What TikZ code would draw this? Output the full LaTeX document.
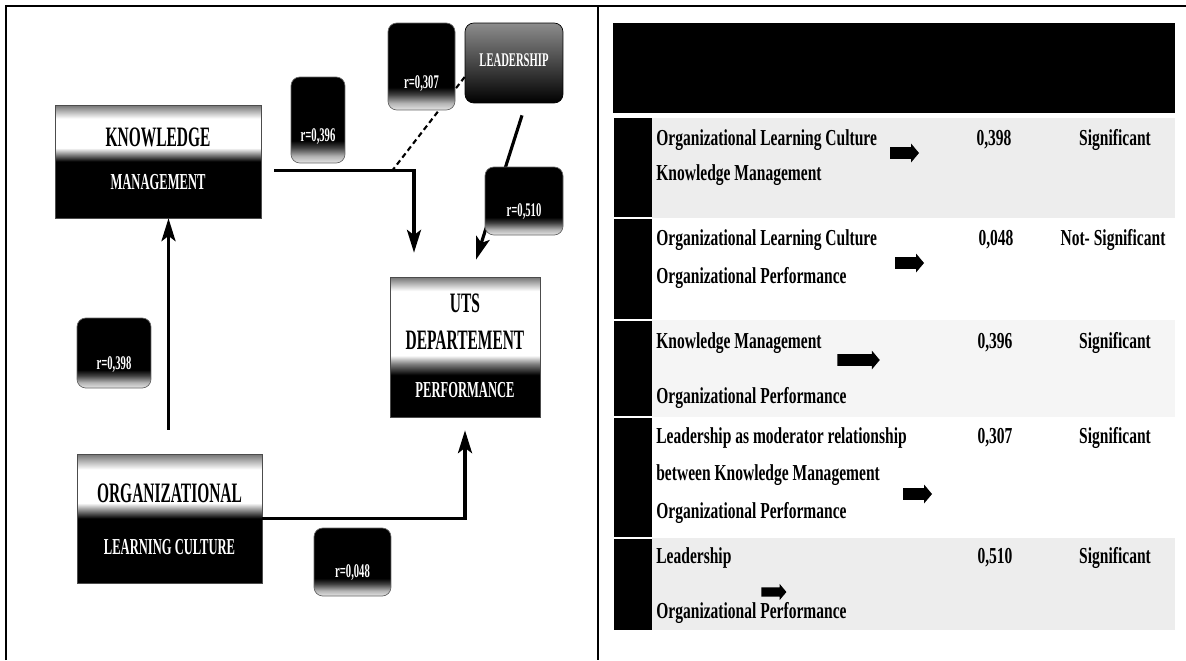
\documentclass[tikz,border=0pt]{standalone}
\usepackage{fontspec}
\setmainfont{Liberation Serif}
\newfontfamily\boxfont[FakeStretch=0.55]{Liberation Serif}
\newfontfamily\tablefont[FakeStretch=0.68]{Liberation Serif}
\usetikzlibrary{calc, positioning, arrows.meta, shapes.arrows}
% scanned look of the boxes: dark top edge, white band, black bottom
\pgfdeclareverticalshading{scanbox}{100bp}{color(0bp)=(black); color(50bp)=(black); color(53bp)=(black!50); color(56bp)=(white); color(69bp)=(white); color(75bp)=(black!55); color(100bp)=(black!55)}
\pgfdeclareverticalshading{scanboxtall}{100bp}{color(0bp)=(black); color(40bp)=(black); color(44bp)=(black!50); color(47bp)=(white); color(70bp)=(white); color(75bp)=(black!55); color(100bp)=(black!55)}
\pgfdeclareverticalshading{scanlabel}{100bp}{color(0bp)=(black!10); color(25bp)=(black!10); color(29bp)=(black!30); color(34bp)=(black!75); color(38bp)=(black); color(100bp)=(black)}

\begin{document}
\begin{tikzpicture}[x=0.02cm, y=-0.02cm,
  flow/.style={line width=1.8pt, -{Stealth[length=13pt, width=8pt, inset=3pt]}},
  modline/.style={line width=1.2pt, dash pattern=on 3pt off 2pt},
  mainbox/.style={draw=black!70, line width=0.4pt, shading=scanbox},
  tallbox/.style={mainbox, shading=scanboxtall},
  leadbox/.style={rounded corners=5pt, draw=black, top color=black!45, bottom color=black},
  labelbox/.style={rounded corners=5pt, draw=black!60, shading=scanlabel},
  titletxt/.style={font=\boxfont\bfseries\fontsize{16}{18}\selectfont, text=black, inner sep=1pt},
  subtxt/.style={font=\boxfont\bfseries\fontsize{13}{15}\selectfont, text=white, inner sep=1pt},
  labeltxt/.style={font=\boxfont\bfseries\fontsize{11}{13}\selectfont, text=white, inner sep=1pt},
  rowtxt/.style={font=\tablefont\bfseries\fontsize{13}{15}\selectfont, anchor=west, inner sep=0pt},
  valtxt/.style={font=\tablefont\bfseries\fontsize{13}{15}\selectfont, inner sep=0pt},
  blockarrow/.style={single arrow, fill=black, inner xsep=0pt, inner ysep=3.2pt,
    single arrow head extend=2pt, single arrow tip angle=100, minimum height=0.58cm}]
  \useasboundingbox (0,0) rectangle (1186,660);
  \fill[white] (0,0) rectangle (1186,660);

  % frame
  \draw[line width=1.4pt] (6,660) -- (6,6) -- (1186,6);
  \draw[line width=1pt] (598,6) -- (598,660);

  % ---- model ----
  \node[mainbox, minimum width=4.12cm, minimum height=2.26cm] (km) at (158,161.5) {};
  \node[titletxt] (km1) at (158,137) {KNOWLEDGE};
  \node[subtxt] (km2) at (158,182) {MANAGEMENT};

  \node[mainbox, minimum width=3.7cm, minimum height=2.58cm] (olc) at (169.5,518.5) {};
  \node[titletxt] (olc1) at (169.5,493) {ORGANIZATIONAL};
  \node[subtxt] (olc2) at (169.5,547) {LEARNING CULTURE};

  \node[tallbox, minimum width=3cm, minimum height=2.8cm] (uts) at (465,347) {};
  \node[titletxt] (uts1) at (465,303) {UTS};
  \node[titletxt] (uts2) at (465,340) {DEPARTEMENT};
  \node[subtxt] (uts3) at (465,390) {PERFORMANCE};

  \node[leadbox, minimum width=1.96cm, minimum height=1.6cm] (lead) at (514,63) {};
  \node[labeltxt] (lead1) at (514,60) {LEADERSHIP};

  \draw[flow] ($(km.east)+(13,9)$) -| ($(uts.north)+(-51,-24)$);
  \draw[modline] ($(lead.west)+(0,14)$) -- ($(km.east)+(131,9)$);
  \draw[flow] ($(lead.south)+(8,12)$) -- ($(uts.north)+(11,-17)$);
  \draw[flow] ($(olc.north)+(-1,-24)$) -- ($(km.south)+(10.5,0)$);
  \draw[flow] (olc.east) -| ($(uts.south)+(0,13)$);

  \node[labelbox, minimum width=1.08cm, minimum height=1.72cm] (lbl-km) at (318,120) {};
  \node[labeltxt, above=0.34cm of lbl-km.south] (t-km) {r=0,396};
  \node[labelbox, minimum width=1.34cm, minimum height=1.74cm] (lbl-mod) at (421.5,66.5) {};
  \node[labeltxt, above=0.34cm of lbl-mod.south] (t-mod) {r=0,307};
  \node[labelbox, minimum width=1.56cm, minimum height=1.36cm] (lbl-lu) at (524,201) {};
  \node[labeltxt, above=0.28cm of lbl-lu.south] (t-lu) {r=0,510};
  \node[labelbox, minimum width=1.48cm, minimum height=1.4cm] (lbl-olckm) at (114,353) {};
  \node[labeltxt, above=0.28cm of lbl-olckm.south] (t-olckm) {r=0,398};
  \node[labelbox, minimum width=1.54cm, minimum height=1.36cm] (lbl-olcu) at (352.5,562) {};
  \node[labeltxt, above=0.28cm of lbl-olcu.south] (t-olcu) {r=0,048};

  % ---- results table ----
  \node[fill=black, minimum width=11.24cm, minimum height=1.8cm, inner sep=0pt] (head) at (894,68) {};
  \fill[black!7] (652,118) rectangle (1175,218);
  \fill[black!4] (652,320) rectangle (1175,417);
  \fill[black!7] (652,538) rectangle (1175,630);
  \fill (614,118) rectangle (652,630);
  \foreach \yy in {218,320,417,538}
    \draw[white, line width=0.8pt] (614,\yy) -- (652,\yy);

  \node[rowtxt] (r1a) at (656,140) {Organizational Learning Culture};
  \node[rowtxt] (r1b) at (656,175) {Knowledge Management};
  \node[blockarrow] (r1arr) at (902,153) {};
  \node[valtxt] (r1v) at (994,140) {0,398};
  \node[valtxt] (r1s) at (1115,140) {Significant};

  \node[rowtxt] (r2a) at (656,240) {Organizational Learning Culture};
  \node[rowtxt] (r2b) at (656,278) {Organizational Performance};
  \node[blockarrow] (r2arr) at (907,263) {};
  \node[valtxt] (r2v) at (996,240) {0,048};
  \node[valtxt] (r2s) at (1113,240) {Not- Significant};

  \node[rowtxt] (r3a) at (656,343) {Knowledge Management};
  \node[rowtxt] (r3b) at (656,398) {Organizational Performance};
  \node[blockarrow, minimum height=0.85cm] (r3arr) at (856,360) {};
  \node[valtxt] (r3v) at (995,343) {0,396};
  \node[valtxt] (r3s) at (1115,343) {Significant};

  \node[rowtxt] (r4a) at (656,438) {Leadership as moderator relationship};
  \node[rowtxt] (r4b) at (656,475) {between Knowledge Management};
  \node[rowtxt] (r4c) at (656,513) {Organizational Performance};
  \node[blockarrow] (r4arr) at (915,494) {};
  \node[valtxt] (r4v) at (995,438) {0,307};
  \node[valtxt] (r4s) at (1115,438) {Significant};

  \node[rowtxt] (r5a) at (656,558) {Leadership};
  \node[rowtxt] (r5b) at (656,613) {Organizational Performance};
  \node[blockarrow, inner ysep=2.4pt, minimum height=0.5cm] (r5arr) at (772,592) {};
  \node[valtxt] (r5v) at (995,558) {0,510};
  \node[valtxt] (r5s) at (1115,558) {Significant};
\end{tikzpicture}
\end{document}
